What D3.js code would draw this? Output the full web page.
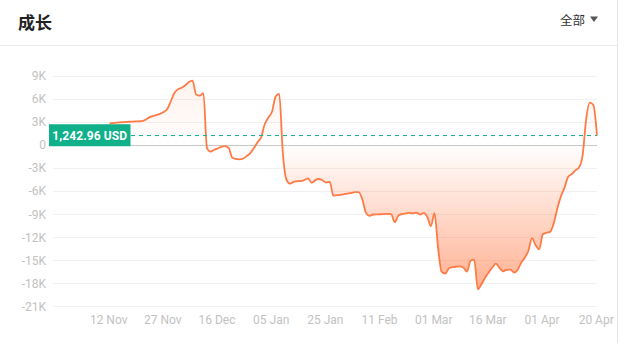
<!DOCTYPE html>
<html>
<head>
<meta charset="utf-8">
<script src="https://cdn.jsdelivr.net/npm/d3@7/dist/d3.min.js"></script>
<style>
  html, body { margin: 0; padding: 0; background: #fff; }
  svg { display: block; }
</style>
</head>
<body>
<svg id="chart" width="626" height="343"></svg>
<script>
// ---- data ----
const title = "成长";
const filterLabel = "全部";
const currentLabel = "1,242.96 USD";
const currentValue = 1242.96;
const xTickLabels = ["12 Nov", "27 Nov", "16 Dec", "05 Jan", "25 Jan", "11 Feb", "01 Mar", "16 Mar", "01 Apr", "20 Apr"];
const yTickValues = [9000, 6000, 3000, 0, -3000, -6000, -9000, -12000, -15000, -18000, -21000];
// growth (K USD), points evenly spaced; one x label every 15 points
const growthK = [
  2.82, 2.87, 2.92, 2.96, 3.00, 3.03, 3.05, 3.08, 3.10, 3.13,
  3.30, 3.61, 3.78, 3.91, 4.07, 4.30, 4.69, 5.74, 6.81, 7.29,
  7.47, 7.80, 8.22, 8.40, 6.59, 6.45, 6.78, -0.39, -0.85, -0.60,
  -0.42, -0.23, -0.14, -0.37, -1.66, -1.80, -1.85, -1.75, -1.43, -1.04,
  -0.37, 0.38, 1.02, 2.74, 3.59, 4.34, 6.32, 6.68, -1.04, -4.50,
  -5.02, -4.79, -4.69, -4.69, -4.54, -4.34, -4.93, -4.56, -4.42, -4.59,
  -4.88, -4.80, -6.59, -6.53, -6.48, -6.40, -6.31, -6.21, -6.13, -6.12,
  -7.04, -8.80, -9.21, -9.04, -9.02, -9.01, -8.98, -8.95, -9.00, -10.04,
  -9.19, -9.00, -8.89, -8.84, -8.89, -8.79, -9.04, -8.84, -9.35, -10.56,
  -8.87, -13.43, -16.52, -16.73, -16.04, -15.91, -15.84, -15.79, -15.96, -16.48,
  -15.06, -14.93, -18.78, -18.13, -17.30, -16.61, -15.95, -15.45, -16.00, -16.44,
  -16.25, -16.21, -16.60, -16.26, -15.33, -14.67, -13.76, -12.13, -13.04, -13.56,
  -11.61, -11.42, -11.31, -10.21, -8.29, -6.69, -5.54, -4.15, -3.79, -3.30,
  -2.93, -1.40, 3.39, 5.54, 5.22, 1.24296
];
const growth = growthK.map(v => v * 1000);
const ticksEvery = 15;

// ---- layout ----
const svg = d3.select("#chart");
const W = 626, H = 343;
const gridLeft = 53, gridRight = 597;
const x = d3.scaleLinear().domain([0, growth.length - 1]).range([109.5, 597]);
const y = d3.scaleLinear().domain([-21000, 9000]).range([306.3, 76]);
const lineColor = "#ff7a45";
const green = "#0fb08a";
const axisFont = "Roboto, 'Noto Sans', sans-serif";

// card frame
svg.append("line").attr("x1", 617.5).attr("x2", 617.5).attr("y1", 0).attr("y2", H)
  .attr("stroke", "#e6e6e6").attr("stroke-width", 1);
svg.append("line").attr("x1", 0).attr("x2", 617).attr("y1", 45.5).attr("y2", 45.5)
  .attr("stroke", "#e8e8e8").attr("stroke-width", 1);

// header
svg.append("text").attr("x", 18).attr("y", 29)
  .attr("font-family", "'Noto Sans CJK SC', sans-serif").attr("font-size", 17)
  .attr("font-weight", 700).attr("fill", "#222").text(title);
svg.append("text").attr("x", 560).attr("y", 25)
  .attr("font-family", "'Noto Sans CJK SC', sans-serif").attr("font-size", 12.5)
  .attr("fill", "#333").text(filterLabel);
svg.append("path").attr("d", "M590,16.5 L598,16.5 L594,22 Z").attr("fill", "#555");

// grid + y labels
const gy = svg.append("g");
gy.selectAll("line.grid").data(yTickValues.filter(d => d !== 0)).join("line")
  .attr("class", "grid")
  .attr("x1", gridLeft).attr("x2", gridRight)
  .attr("y1", d => Math.round(y(d)) + 0.5).attr("y2", d => Math.round(y(d)) + 0.5)
  .attr("stroke", "#f1f1f1").attr("stroke-width", 1);
gy.selectAll("text").data(yTickValues).join("text")
  .attr("x", 46).attr("y", d => y(d)).attr("dy", "0.36em")
  .attr("text-anchor", "end")
  .attr("font-family", axisFont).attr("font-size", 12).attr("fill", "#c2c2c2")
  .text(d => d === 0 ? "0" : (d / 1000) + "K");

// x labels
const xTickIdx = xTickLabels.map((_, i) => i * ticksEvery);
svg.append("g").selectAll("text").data(xTickIdx).join("text")
  .attr("x", d => x(d) - 0.8).attr("y", 323.5)
  .attr("text-anchor", "middle")
  .attr("font-family", axisFont).attr("font-size", 12).attr("fill", "#c2c2c2")
  .text((d, i) => xTickLabels[i]);

// gradient
const defs = svg.append("defs");
const grad = defs.append("linearGradient").attr("id", "areaGrad")
  .attr("gradientUnits", "userSpaceOnUse")
  .attr("x1", 0).attr("x2", 0).attr("y1", y(9000)).attr("y2", y(-21000));
const zeroOff = (y(0) - y(9000)) / (y(-21000) - y(9000));
grad.append("stop").attr("offset", 0).attr("stop-color", lineColor).attr("stop-opacity", 0.11);
grad.append("stop").attr("offset", zeroOff).attr("stop-color", lineColor).attr("stop-opacity", 0.0);
grad.append("stop").attr("offset", 1).attr("stop-color", lineColor).attr("stop-opacity", 0.66);

const area = d3.area().x((d, i) => x(i)).y0(y(0)).y1(d => y(d)).curve(d3.curveMonotoneX);
svg.append("path").datum(growth).attr("d", area).attr("fill", "url(#areaGrad)");

// zero line
svg.append("line").attr("x1", gridLeft).attr("x2", gridRight)
  .attr("y1", Math.round(y(0)) + 0.5).attr("y2", Math.round(y(0)) + 0.5)
  .attr("stroke", "#c8c8c8").attr("stroke-width", 1);

// line
const line = d3.line().x((d, i) => x(i)).y(d => y(d)).curve(d3.curveMonotoneX);
svg.append("path").datum(growth).attr("d", line)
  .attr("fill", "none").attr("stroke", lineColor).attr("stroke-width", 1.8)
  .attr("stroke-linejoin", "round");

// current value dashed line + label
const cy = y(currentValue);
svg.append("line").attr("x1", 131).attr("x2", gridRight)
  .attr("y1", cy).attr("y2", cy)
  .attr("stroke", green).attr("stroke-width", 1).attr("stroke-dasharray", "4,4");
svg.append("rect").attr("x", 49).attr("y", cy - 11.3).attr("width", 81.5).attr("height", 22)
  .attr("fill", green);
svg.append("text").attr("x", 89.7).attr("y", cy).attr("dy", "0.36em")
  .attr("text-anchor", "middle")
  .attr("font-family", axisFont).attr("font-size", 12).attr("font-weight", 700)
  .attr("letter-spacing", 0.1)
  .attr("fill", "#fff").text(currentLabel);
</script>
</body>
</html>
